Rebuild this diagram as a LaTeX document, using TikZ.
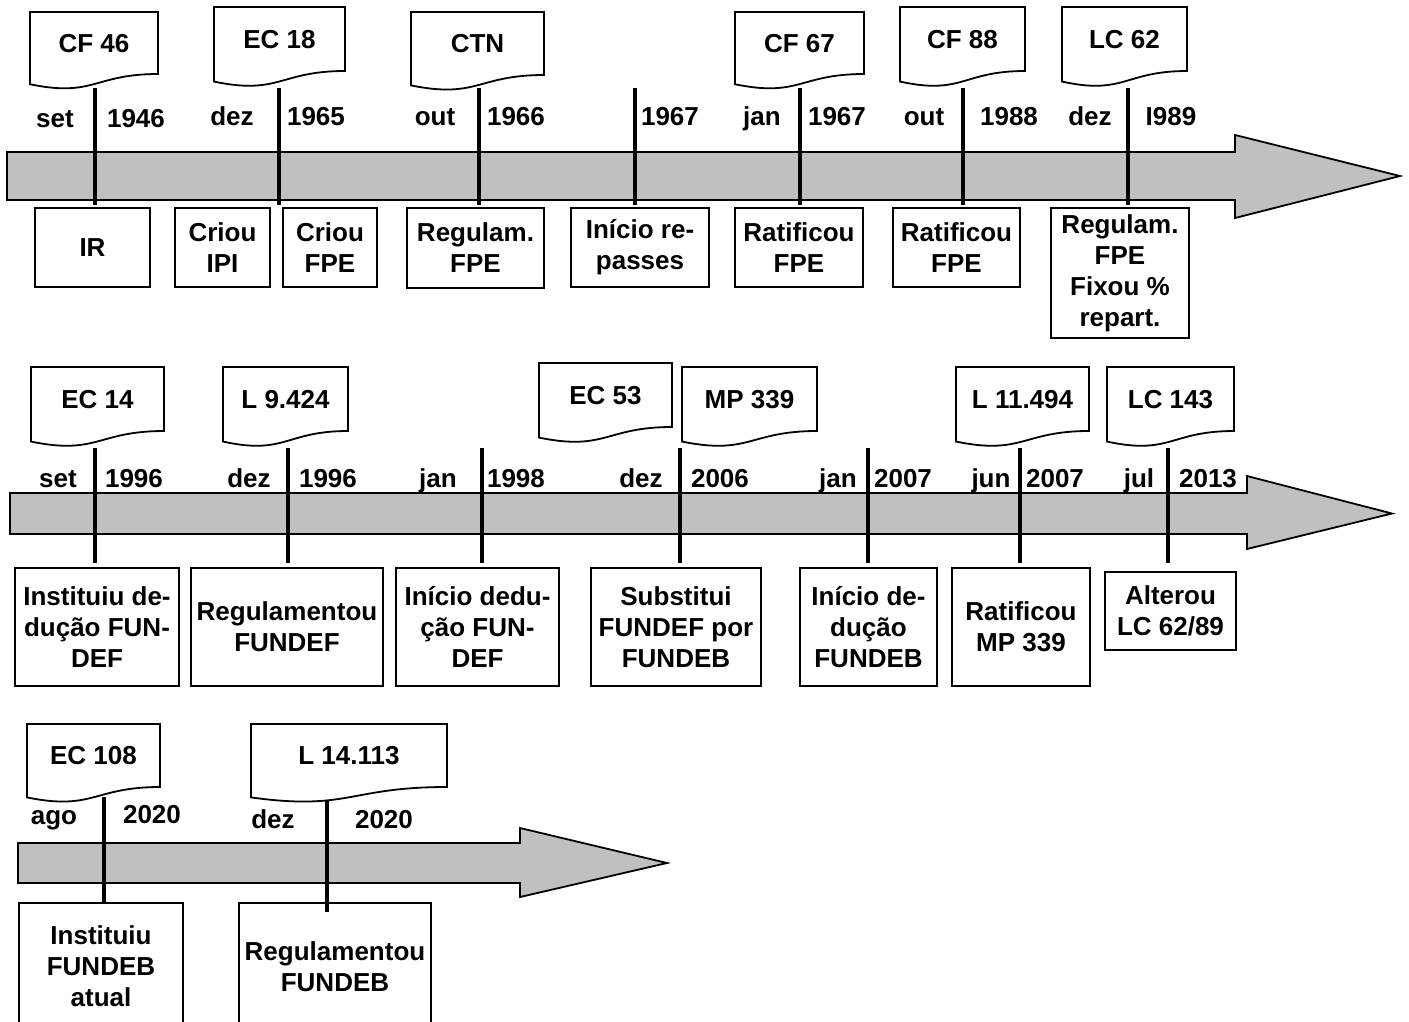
\documentclass[tikz,border=0pt]{standalone}
\usepackage{fontspec}
\setmainfont{Liberation Sans}
\usepackage{xcolor}
\definecolor{Cinza}{HTML}{C0C0C0}
\definecolor{Tinta}{HTML}{000000}
% documento: nome, x1, topo, x2, base direita, texto
\newcommand{\Doc}[6]{%
  \draw[doc] (#2,#3) -- (#4,#3) -- (#4,#5)
    .. controls ({(#2+#4)/2},#5) and ({(#2+#4)/2},{#3+1.38*(#5-#3)}) .. (#2,{#3+1.165*(#5-#3)}) -- cycle;
  \node[rot] (#1) at ({(#2+#4)/2},{(#3+#5)/2+9}) {#6};}
% caixa: nome, x1, y1, x2, y2, texto
\newcommand{\Caixa}[6]{%
  \node[caixa,minimum width={#4pt-#2pt},minimum height={#5pt-#3pt}] (#1) at ({(#2+#4)/2},{(#3+#5)/2}) {#6};}
% seta: x0, base da ponta, ponta, y1, y2, ponta y1, ponta y2
\newcommand{\Seta}[7]{%
  \draw[seta] (#1,#4) -- (#2,#4) -- (#2,#6) -- (#3,{(#4+#5)/2}) -- (#2,#7) -- (#2,#5) -- (#1,#5) -- cycle;}
\begin{document}
\begin{tikzpicture}[x=1pt,y=-1pt,
  every node/.style={font=\fontsize{26}{31}\selectfont\bfseries,text=Tinta},
  caixa/.style={draw=Tinta,line width=1.8pt,align=center,inner sep=0pt},
  rot/.style={anchor=base},
  marca/.style={draw=Tinta,line width=3.8pt},
  seta/.style={fill=Cinza,draw=Tinta,line width=1.8pt,line join=miter},
  doc/.style={fill=white,draw=Tinta,line width=1.8pt}]
\clip (0,0) rectangle (1409,1021);
% eixos
\Seta{7}{1235}{1400}{152}{200}{135}{218}
\Seta{10}{1247}{1392}{493}{534}{476}{549}
\Seta{18}{520}{667}{843}{883}{828}{897}
% caixas de baixo
\Caixa{ir}{35}{208}{150}{287}{IR}
\Caixa{ipi}{175}{208}{270}{287}{Criou\\IPI}
\Caixa{fpe}{283}{208}{377}{287}{Criou\\FPE}
\Caixa{regfpe}{407}{208}{544}{288}{Regulam.\\FPE}
\Caixa{repasses}{571}{208}{709}{287}{Início re-\\passes}
\Caixa{ratA}{735}{208}{863}{287}{Ratificou\\FPE}
\Caixa{ratB}{893}{208}{1020}{287}{Ratificou\\FPE}
\Caixa{fixou}{1051}{208}{1189}{338}{Regulam.\\FPE\\Fixou \%\\repart.}
\Caixa{instA}{15}{568}{179}{686}{Instituiu de-\\dução FUN-\\DEF}
\Caixa{regA}{191}{568}{383}{686}{Regulamentou\\FUNDEF}
\Caixa{dedA}{396}{568}{559}{686}{Início dedu-\\ção FUN-\\DEF}
\Caixa{subst}{591}{568}{761}{686}{Substitui\\FUNDEF por\\FUNDEB}
\Caixa{dedB}{800}{568}{937}{686}{Início de-\\dução\\FUNDEB}
\Caixa{ratC}{952}{568}{1090}{686}{Ratificou\\MP 339}
\Caixa{alt}{1105}{572}{1236}{650}{Alterou\\LC 62/89}
\Caixa{instB}{19}{903}{183}{1030}{Instituiu\\FUNDEB\\atual}
\Caixa{regB}{239}{903}{431}{1030}{Regulamentou\\FUNDEB}
% marcas
\foreach \n/\x/\a/\b in {m1/95/88/205,m2/279/88/205,m3/479/88/205,m4/635/88/205,
  m5/800/88/205,m6/963/88/205,m7/1128/88/205,
  n1/95/448/563,n2/288/448/563,n3/482/448/563,n4/680/448/563,
  n5/868/448/563,n6/1020/448/563,n7/1168/448/563,
  p1/104/797/903,p2/327/800/912}{
  \coordinate (\n-a) at (\x,\a); \coordinate (\n-b) at (\x,\b);
  \draw[marca] (\n-a) -- (\n-b);}
% documentos
\Doc{cf46}{30}{12}{158}{74}{CF 46}
\Doc{ec18}{214}{7}{345}{71}{EC 18}
\Doc{ctn}{411}{12}{544}{75}{CTN}
\Doc{cf67}{735}{12}{864}{74}{CF 67}
\Doc{cf88}{900}{7}{1025}{71}{CF 88}
\Doc{lc62}{1062}{7}{1187}{71}{LC 62}
\Doc{ec14}{31}{367}{164}{431}{EC 14}
\Doc{l9424}{223}{367}{348}{431}{L 9.424}
\Doc{ec53}{539}{363}{672}{427}{EC 53}
\Doc{mp339}{682}{367}{817}{431}{MP 339}
\Doc{l11494}{956}{367}{1089}{431}{L 11.494}
\Doc{lc143}{1107}{367}{1234}{431}{LC 143}
\Doc{ec108}{27}{724}{160}{787}{EC 108}
\Doc{l14113}{251}{724}{447}{787}{L 14.113}
% meses e anos
\foreach \n/\x/\y/\t in {a1/55/127/set,a2/136/127/1946,a3/232/125/dez,a4/316/125/1965,
  a5/435/125/out,a6/516/125/1966,a7/670/125/1967,a8/762/125/jan,a9/837/125/1967,
  a10/924/125/out,a11/1009/125/1988,a12/1090/125/dez,a13/1171/125/I989,
  b1/58/487/set,b2/134/487/1996,b3/249/487/dez,b4/328/487/1996,b5/438/487/jan,
  b6/516/487/1998,b7/641/487/dez,b8/720/487/2006,b9/838/487/jan,b10/903/487/2007,
  b11/991/487/jun,b12/1055/487/2007,b13/1139/487/jul,b14/1208/487/2013,
  c1/54/824/ago,c2/152/823/2020,c3/273/828/dez,c4/384/828/2020}
  \node[rot] (\n) at (\x,\y) {\t};
\end{tikzpicture}
\end{document}
